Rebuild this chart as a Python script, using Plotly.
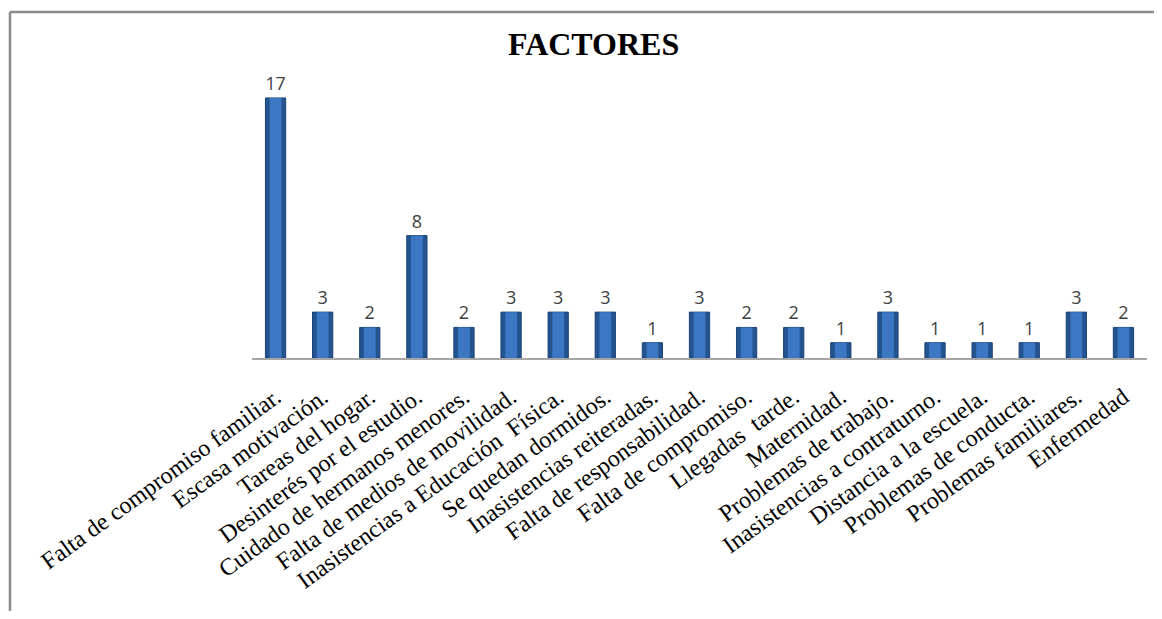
import plotly.graph_objects as go

factores = [
    "Falta de compromiso familiar.",
    "Escasa motivación.",
    "Tareas del hogar.",
    "Desinterés por el estudio.",
    "Cuidado de hermanos menores.",
    "Falta de medios de movilidad.",
    "Inasistencias a Educación  Física.",
    "Se quedan dormidos.",
    "Inasistencias reiteradas.",
    "Falta de responsabilidad.",
    "Falta de compromiso.",
    "Llegadas  tarde.",
    "Maternidad.",
    "Problemas de trabajo.",
    "Inasistencias a contraturno.",
    "Distancia a la escuela.",
    "Problemas de conducta.",
    "Problemas familiares.",
    "Enfermedad",
]
cantidad = [17, 3, 2, 8, 2, 3, 3, 3, 1, 3, 2, 2, 1, 3, 1, 1, 1, 3, 2]

fig = go.Figure()
# outer dark bar + lighter inner bar for the bevelled look
fig.add_trace(go.Bar(
    x=factores, y=cantidad, width=0.43,
    marker=dict(color="#24548f", line=dict(color="#1b4278", width=1)),
    text=cantidad, textposition="outside", cliponaxis=False,
    textfont=dict(family="Open Sans", size=18, color="#404040"),
))
fig.add_trace(go.Bar(
    x=factores, y=cantidad, width=0.25,
    marker=dict(color="#3b77c2", line=dict(width=0)),
    hoverinfo="skip",
))

# page body has an 8px margin, so the figure is drawn 8px smaller
fig.update_layout(
    width=1146, height=603,
    margin=dict(l=244, r=7, t=67, b=253),
    paper_bgcolor="white", plot_bgcolor="white",
    showlegend=False,
    barmode="overlay",
    title=dict(text="<b>FACTORES</b>", x=0.511, xanchor="center", y=0.94, yanchor="middle",
               font=dict(family="Liberation Serif", size=32, color="black")),
    xaxis=dict(showline=True, linecolor="#a6a6a6", linewidth=1.5, ticks="",
               tickangle=-36, ticklabelstandoff=14,
               tickfont=dict(family="Liberation Serif", size=24, color="black"),
               showgrid=False, automargin=False),
    yaxis=dict(visible=False, range=[0, 18.5], showgrid=False),
    shapes=[
        dict(type="line", xref="paper", yref="paper", x0=-0.2704, x1=1.05, y0=1.2226, y1=1.2226,
             line=dict(color="#8c8c8c", width=2.5)),
        dict(type="line", xref="paper", yref="paper", x0=-0.2704, x1=-0.2704, y0=1.2226, y1=-1.2,
             line=dict(color="#8c8c8c", width=2.5)),
    ],
)

fig.write_html("out.html")
